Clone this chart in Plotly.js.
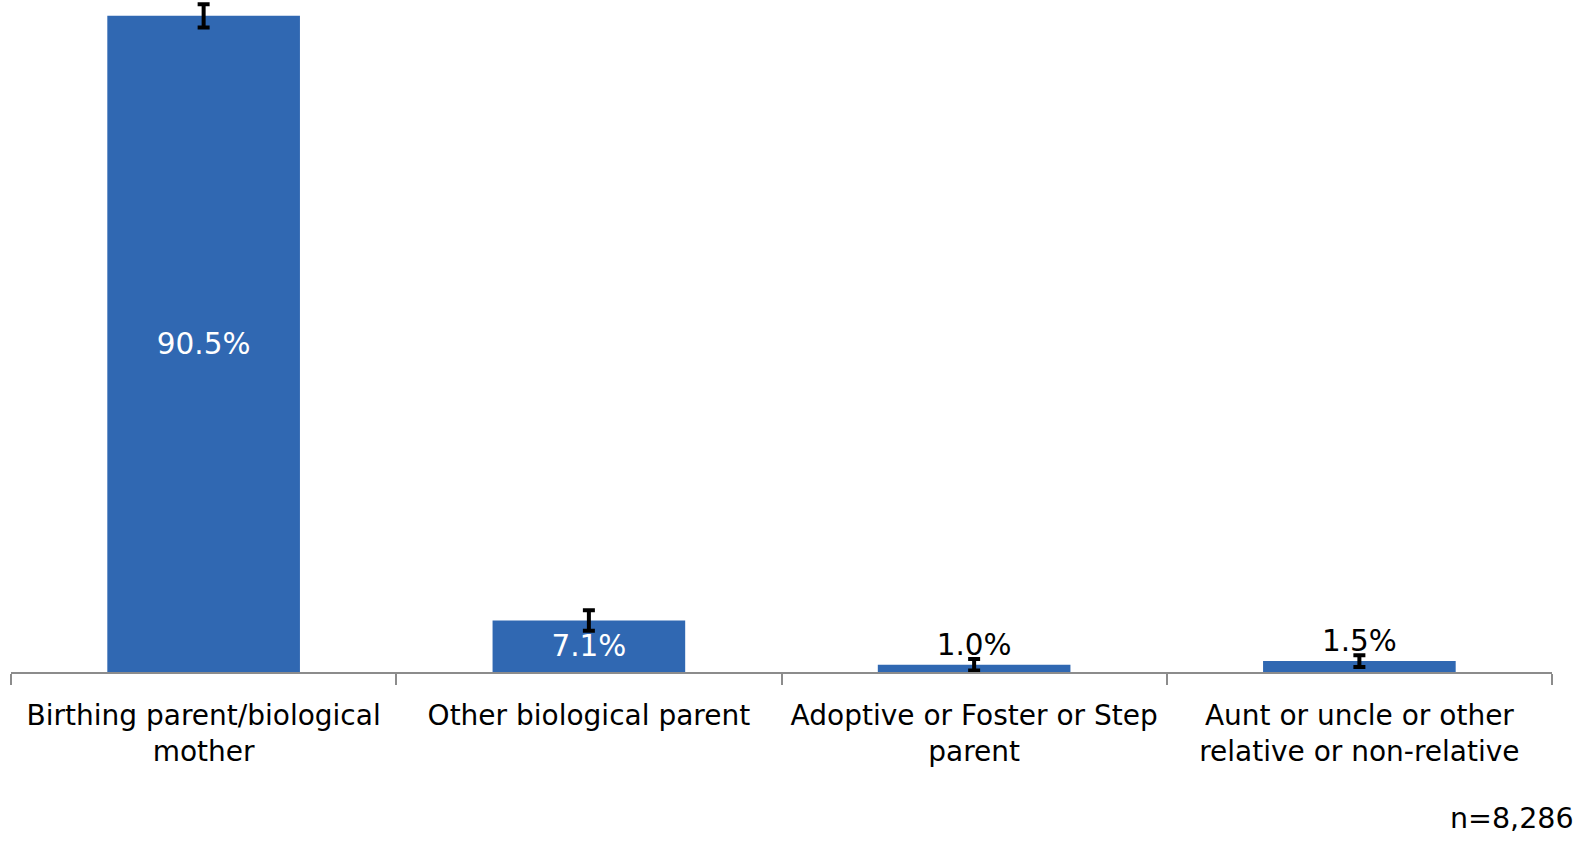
<!DOCTYPE html>
<html>
<head>
<meta charset="utf-8">
<script src="https://cdn.plot.ly/plotly-3.0.1.min.js"></script>
<style>html,body{margin:0;padding:0;background:#fff;}#chart{width:1588px;height:844px;}</style>
</head>
<body>
<div id="chart"></div>
<script>
var categories = [
  "Birthing parent/biological<br>mother",
  "Other biological parent",
  "Adoptive or Foster or Step<br>parent",
  "Aunt or uncle or other<br>relative or non-relative"
];
var percents = [90.5, 7.1, 1.0, 1.5];
var errors = [1.6, 1.4, 0.8, 0.8];
var valueLabels = ["90.5%", "7.1%", "1.0%", "1.5%"];
var sampleNote = "n=8,286";

var FONT = "DejaVu Sans, Verdana, sans-serif";

var trace = {
  type: "bar",
  x: categories,
  y: percents,
  text: valueLabels,
  textposition: ["inside", "inside", "outside", "outside"],
  insidetextanchor: "middle",
  textfont: {family: FONT, size: 29.5, color: ["#ffffff", "#ffffff", "#000000", "#000000"]},
  constraintext: "none",
  cliponaxis: false,
  marker: {color: "#3068B2"},
  error_y: {type: "data", array: errors, visible: true, color: "#000000", thickness: 4, width: 6},
  hoverinfo: "none"
};

var layout = {
  width: 1588,
  height: 844,
  margin: {l: 11, r: 36, t: 2, b: 172},
  paper_bgcolor: "#ffffff",
  plot_bgcolor: "#ffffff",
  showlegend: false,
  bargap: 0.5,
  font: {family: FONT, size: 28, color: "#000000"},
  xaxis: {
    type: "category",
    showline: true,
    linecolor: "#8c8c8c",
    linewidth: 2,
    ticks: "outside",
    tickson: "boundaries",
    ticklen: 11,
    tickwidth: 2,
    tickcolor: "#8c8c8c",
    ticklabelstandoff: 17,
    tickfont: {family: FONT, size: 28, color: "#000000"},
    showgrid: false,
    zeroline: false
  },
  yaxis: {
    range: [0, 92.4],
    visible: false,
    showgrid: false,
    zeroline: false
  },
  annotations: [{
    text: sampleNote,
    xref: "paper", yref: "paper",
    x: 1, y: 0,
    xanchor: "right", yanchor: "middle",
    xshift: 24, yshift: -146,
    showarrow: false,
    font: {family: FONT, size: 28.5, color: "#000000"}
  }]
};

Plotly.newPlot("chart", [trace], layout, {displayModeBar: false, staticPlot: true});
</script>
</body>
</html>
